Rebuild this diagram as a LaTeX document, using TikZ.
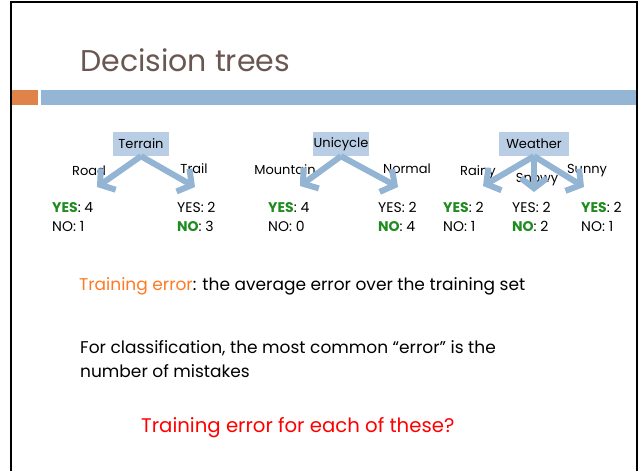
\documentclass[tikz,border=0pt]{standalone}
\usepackage{fontspec}
\setmainfont{Poppins}
\usetikzlibrary{arrows.meta}
\definecolor{titlebrown}{HTML}{6B5751}
\definecolor{barorange}{HTML}{E0834A}
\definecolor{barblue}{HTML}{95B5D4}
\definecolor{boxblue}{HTML}{B9CDE4}
\definecolor{arrowblue}{HTML}{93B4D3}
\definecolor{yesgreen}{HTML}{1E8C1E}
\definecolor{termorange}{HTML}{FF7A22}
\tikzset{
  attr/.style={fill=boxblue, minimum width=56pt, minimum height=24pt, inner sep=0pt,
    font=\fontsize{13}{15}\selectfont},
  branch/.style={font=\fontsize{13}{15}\selectfont, anchor=base, inner sep=0pt},
  count/.style={font=\fontsize{14}{16}\selectfont, anchor=base west, inner sep=0pt},
  fatarrow/.style={draw=arrowblue, line width=6pt,
    -{Straight Barb[length=10pt, width=26pt, line width=6pt]}},
  body/.style={font=\fontsize{17}{20}\selectfont, anchor=base west, inner sep=0pt},
  frame/.style={line width=2pt, black}
}
\newcommand{\yes}{\textcolor{yesgreen}{\textbf{YES}}}
\newcommand{\nno}{\textcolor{yesgreen}{\textbf{NO}}}
\begin{document}
\begin{tikzpicture}[x=1pt, y=-1pt]
\useasboundingbox (0,0) rectangle (639,471);
% slide frame
\draw[frame] (11,471) -- (11,2) -- (637,2) -- (637,471);
% title and header bars
\node[anchor=base west, inner sep=0pt, text=titlebrown,
  font=\fontsize{30}{34}\selectfont] (title) at (80,71) {Decision trees};
\fill[barorange] (12,90) rectangle (38,105);
\fill[barblue] (41,90) rectangle (636,105);

% --- Terrain tree
\node[attr] (terrain) at (141,144) {Terrain};
\node[branch] (road) at (89,175) {Road};
\node[branch] (trail) at (194,173) {Trail};
\coordinate (tL) at (97,187);
\coordinate (tR) at (195,187);
\draw[fatarrow] (terrain.south) -- (tL);
\draw[fatarrow] (terrain.south) -- (tR);
\node[count] (t1y) at (52,212) {\yes: 4};
\node[count] (t1n) at (52,231) {NO: 1};
\node[count] (t2y) at (177,212) {YES: 2};
\node[count] (t2n) at (177,231) {\nno: 3};

% --- Unicycle tree
\node[attr] (unicycle) at (341,144) {Unicycle};
\node[branch] (mountain) at (285,174) {Mountain};
\node[branch] (normal) at (407,173) {Normal};
\coordinate (uL) at (300,186);
\coordinate (uR) at (398,187);
\draw[fatarrow] (unicycle.south) -- (uL);
\draw[fatarrow] (unicycle.south) -- (uR);
\node[count] (u1y) at (268,212) {\yes: 4};
\node[count] (u1n) at (268,231) {NO: 0};
\node[count] (u2y) at (378,212) {YES: 2};
\node[count] (u2n) at (378,231) {\nno: 4};

% --- Weather tree
\node[attr, minimum width=70pt] (weather) at (534,144) {Weather};
\node[branch] (rainy) at (478,175) {Rainy};
\node[branch] (snowy) at (537,182) {Snowy};
\node[branch] (sunny) at (587,173) {Sunny};
\coordinate (wL) at (483,186);
\coordinate (wM) at (534,192);
\coordinate (wR) at (584,187);
\draw[fatarrow] (weather.south) -- (wL);
\draw[fatarrow] (weather.south) -- (wM);
\draw[fatarrow] (weather.south) -- (wR);
\node[count] (w1y) at (443,212) {\yes: 2};
\node[count] (w1n) at (443,231) {NO: 1};
\node[count] (w2y) at (512,212) {YES: 2};
\node[count] (w2n) at (512,231) {\nno: 2};
\node[count] (w3y) at (581,212) {\yes: 2};
\node[count] (w3n) at (581,231) {NO: 1};

% --- explanatory text
\node[body] (deftext) at (79,290) {\textcolor{termorange}{Training error}: the average error over the training set};
\node[body] (cls1) at (80,353) {For classification, the most common “error” is the};
\node[body] (cls2) at (80,377) {number of mistakes};
\node[body, font=\fontsize{19.7}{23}\selectfont, text=red] (question) at (141,432) {Training error for each of these?};
\end{tikzpicture}
\end{document}
